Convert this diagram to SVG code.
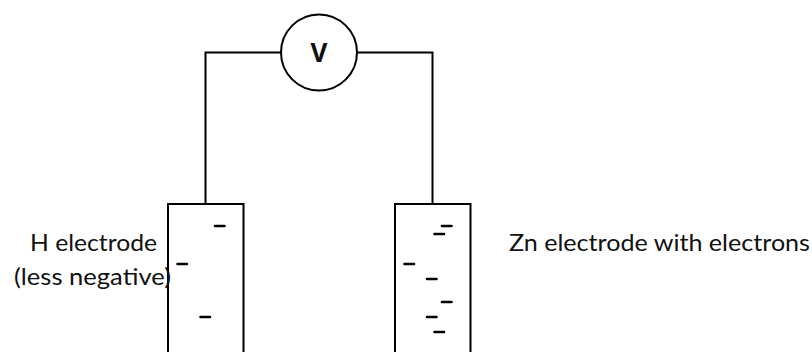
<svg xmlns="http://www.w3.org/2000/svg" width="812" height="352" viewBox="0 0 812 352">
<style>
.w{fill:none;stroke:#000;stroke-width:2}
.b{fill:none;stroke:#000;stroke-width:2}
.d{stroke:#000;stroke-width:2.6;stroke-linecap:round}
.t{font-family:"Lato","Open Sans",sans-serif;font-size:23px;fill:#111}
</style>
<rect width="812" height="352" fill="#fff"/>
<g id="connectors">
<path class="w" d="M281 52.500H205.500V204"/>
<path class="w" d="M357 52.500H432.500V204"/>
</g>
<g id="voltmeter">
<circle class="w" cx="319" cy="52.500" r="38"/>
<text x="319" y="62" text-anchor="middle" style="font-family:'Open Sans','Noto Sans',sans-serif;font-size:26px;font-weight:700;fill:#111">V</text>
</g>
<g id="h-electrode">
<path class="b" d="M168 352V204H243.500V352"/>
<path class="d" d="M215 226h9.500M177.500 264h9.500M200.500 317h9.500"/>
</g>
<g id="zn-electrode">
<path class="b" d="M395 352V204H470.500V352"/>
<path class="d" d="M442 226h9.500M434.500 234h9.500M404.500 264h9.500M427 279h9.500M442 302h9.500M427 317h9.500M434.500 332h9.500"/>
</g>
<g id="h-label">
<text class="t" x="30" y="251" textLength="127" lengthAdjust="spacingAndGlyphs">H electrode</text>
<text class="t" x="14" y="285" textLength="157" lengthAdjust="spacingAndGlyphs">(less negative)</text>
</g>
<g id="zn-label">
<text class="t" x="509" y="251" textLength="301" lengthAdjust="spacingAndGlyphs">Zn electrode with electrons</text>
</g>
</svg>
